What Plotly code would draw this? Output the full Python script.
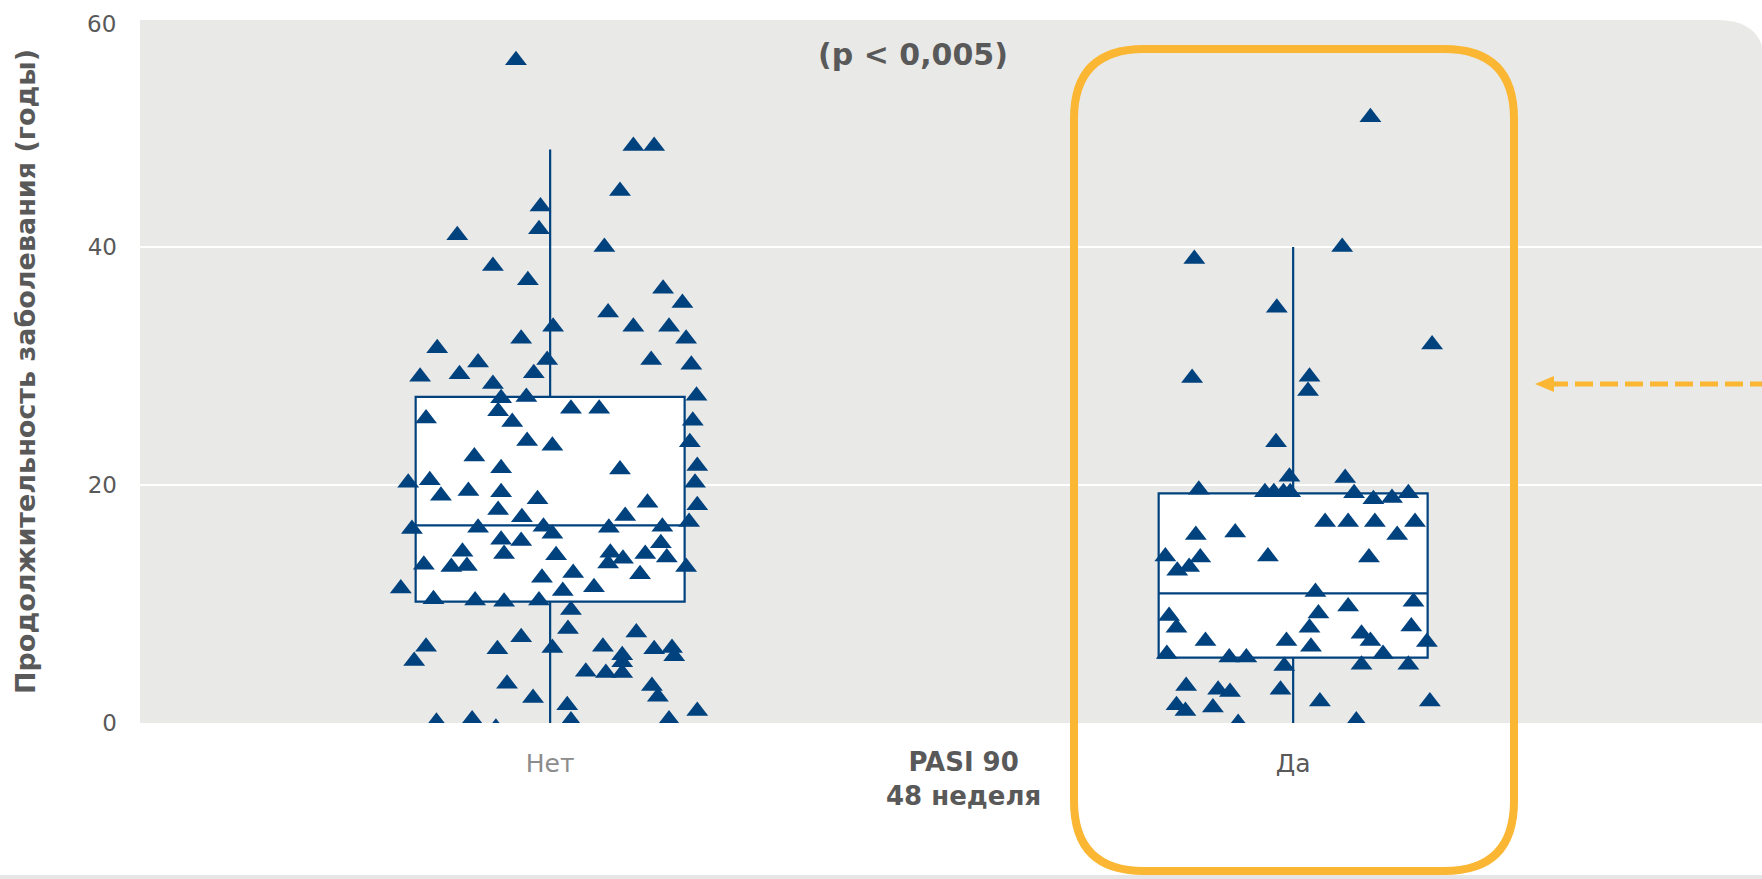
import plotly.graph_objects as go

# ---------------- data ----------------
categories = ["Нет", "Да"]
cat_pos = [0, 1]

# box statistics (years)
box_lower = [0.0, 0.0]
box_q1 = [10.2, 5.5]
box_median = [16.6, 10.9]
box_q3 = [27.4, 19.3]
box_upper = [48.2, 40.0]

# individual patients: jitter offset (category units) and disease duration (years)
no_offsets = [-0.046, 0.112, 0.140, 0.094, -0.013, -0.015, -0.125, 0.073, -0.077, -0.030,
              0.152, 0.178, 0.078, 0.112, 0.160, 0.004, 0.183, -0.039, -0.152, 0.190,
              -0.175, -0.122, -0.097, -0.004, -0.022, -0.077, 0.136, 0.197,
              -0.066, -0.032, -0.070, 0.028, 0.066, -0.167, -0.051, 0.192, 0.188, -0.031,
              0.003, -0.102, -0.066, 0.094, 0.198, -0.191, -0.162, 0.195, -0.147, -0.110,
              -0.066, -0.017, 0.131, 0.198, -0.070, 0.101, -0.038, -0.186, -0.097, -0.009,
              0.003, 0.079, 0.151, 0.187, -0.066, -0.039, 0.149, -0.118, 0.081, 0.098,
              0.128, 0.157, -0.062, 0.008, -0.170, -0.133, -0.112, 0.078, 0.183, -0.011,
              0.031, 0.121, -0.201, 0.017, 0.059, -0.157, -0.101, -0.062, -0.015, 0.028,
              0.024, 0.116, -0.039, -0.167, -0.071, 0.003, 0.071, 0.097, 0.140, 0.164,
              0.167, -0.183, 0.048, 0.075, 0.097, 0.097, 0.137, -0.058, 0.145, -0.023,
              0.023, 0.198, 0.028, -0.153, -0.105, -0.073, 0.160]
no_values = [55.7, 48.5, 48.5, 44.7, 43.4, 41.5, 41.0, 40.0, 38.4, 37.2,
             36.5, 35.3, 34.5, 33.3, 33.3, 33.3, 32.3, 32.3, 31.5, 30.1,
             29.1, 29.3, 30.3, 30.5, 29.4, 28.5, 30.5, 27.5,
             27.3, 27.4, 26.2, 26.4, 26.4, 25.6, 25.3, 25.4, 23.6, 23.7,
             23.3, 22.4, 21.4, 21.3, 21.6, 20.2, 20.4, 20.2, 19.1, 19.5,
             19.4, 18.8, 18.5, 18.3, 17.9, 17.4, 17.3, 16.3, 16.4, 16.5,
             15.9, 16.4, 16.5, 16.9, 15.4, 15.3, 15.1, 14.4, 14.3, 13.8,
             14.2, 13.9, 14.2, 14.1, 13.3, 13.1, 13.2, 13.4, 13.1, 12.2,
             12.6, 12.5, 11.3, 11.1, 11.4, 10.4, 10.3, 10.2, 10.3, 9.5,
             7.9, 7.6, 7.2, 6.4, 6.2, 6.3, 6.4, 5.7, 6.2, 6.3,
             5.6, 5.2, 4.3, 4.2, 5.1, 4.2, 3.1, 3.3, 2.2, 2.1,
             1.5, 1.0, 0.2, 0.1, 0.3, -0.4, 0.3]

yes_offsets = [0.104, 0.066, -0.133, -0.022, 0.187, -0.136, 0.022, 0.020, -0.023, -0.005,
               0.070, -0.127, -0.038, -0.026, -0.013, -0.004, 0.082, 0.155, 0.108, 0.133,
               0.043, 0.074, 0.110, 0.164, 0.140, -0.131, -0.078, -0.172, -0.125, -0.034,
               0.102, -0.156, -0.140, 0.030, 0.162, 0.074, 0.034, -0.167, -0.157, 0.022,
               0.159, -0.118, -0.009, 0.092, 0.104, 0.180, 0.024, -0.170, -0.086, -0.063,
               0.121, -0.012, 0.092, 0.155, -0.144, -0.101, -0.085, -0.017, 0.036, 0.184,
               -0.157, -0.145, -0.108, -0.074, 0.085]
yes_values = [50.9, 40.0, 39.0, 34.9, 31.8, 29.0, 29.1, 27.9, 23.6, 20.7,
              20.6, 19.6, 19.4, 19.4, 19.4, 19.4, 19.3, 19.3, 18.8, 18.9,
              16.9, 16.9, 16.9, 16.9, 15.8, 15.8, 16.0, 14.0, 13.9, 14.0,
              13.9, 12.8, 13.1, 11.0, 10.2, 9.8, 9.2, 9.0, 8.0, 8.0,
              8.1, 6.9, 6.9, 7.5, 6.9, 6.8, 6.4, 5.8, 5.5, 5.5,
              5.8, 4.8, 4.9, 4.9, 3.1, 2.8, 2.6, 2.8, 1.8, 1.8,
              1.5, 1.0, 1.3, 0.0, 0.2]

y_ticks = [0, 20, 40]
y_top_label = "60"
y_title = "Продолжительность заболевания (годы)"
x_title_lines = ["PASI 90", "48 неделя"]
p_text = "(p < 0,005)"
highlight_value = 28.5   # level pointed at by the dashed arrow

# ---------------- style ----------------
W, H = 1762, 879
PL, PR, PT, PB = 140, 1762, 20, 723
BLUE = "#00427E"
ORANGE = "#FBB733"
GREY_TXT = "#595959"
BG = "#E9E9E7"
Y_MAX = 59.08
X_MIN, X_MAX = -0.552, 1.631


def px(xp):
    return (xp - PL) / (PR - PL)


def py(yp):
    return (PB - yp) / (PB - PT)


fig = go.Figure()

for i, cat in enumerate(categories):
    fig.add_trace(go.Box(
        x=[cat_pos[i]], q1=[box_q1[i]], median=[box_median[i]], q3=[box_q3[i]],
        lowerfence=[box_lower[i]], upperfence=[box_upper[i]],
        width=0.362, whiskerwidth=0, boxpoints=False,
        fillcolor="white", line=dict(color=BLUE, width=2.2),
        name=cat, showlegend=False, hoverinfo="skip",
    ))

for pos, offs, vals, name in [(cat_pos[0], no_offsets, no_values, categories[0]),
                              (cat_pos[1], yes_offsets, yes_values, categories[1])]:
    fig.add_trace(go.Scatter(
        x=[pos + o for o in offs], y=vals, mode="markers", name=name,
        marker=dict(symbol="triangle-up", size=19, color=BLUE,
                    line=dict(width=0)),
        showlegend=False,
    ))

shapes = []
# rounded plot background (top-right corner rounded)
r = 45
shapes.append(dict(
    type="path", xref="paper", yref="paper", layer="below",
    path=(f"M {px(PL)},{py(PB)} L {px(PL)},{py(PT)} L {px(1717)},{py(PT)} "
          f"Q {px(1762 + 3)},{py(PT)} {px(1762 + 3)},{py(PT + r)} L {px(1765)},{py(PB)} Z"),
    fillcolor=BG, line=dict(width=0),
))
# light strip at page bottom
shapes.append(dict(type="rect", xref="paper", yref="paper", layer="below",
                   x0=px(0), x1=px(W), y0=py(875), y1=py(880),
                   fillcolor="#E6E6E6", line=dict(width=0)))
# orange highlight frame around "Да"
L, R, T, B, rr = 1074, 1514, 49, 871, 70
frame = (f"M {px(L)},{py(T + rr)} Q {px(L)},{py(T)} {px(L + rr)},{py(T)} "
         f"L {px(R - rr)},{py(T)} Q {px(R)},{py(T)} {px(R)},{py(T + rr)} "
         f"L {px(R)},{py(B - rr)} Q {px(R)},{py(B)} {px(R - rr)},{py(B)} "
         f"L {px(L + rr)},{py(B)} Q {px(L)},{py(B)} {px(L)},{py(B - rr)} Z")
shapes.append(dict(type="path", xref="paper", yref="paper", layer="above",
                   path=frame, line=dict(color=ORANGE, width=8)))
# dashed arrow
shapes.append(dict(type="line", xref="paper", yref="y", layer="above",
                   x0=px(1550), x1=px(1770), y0=highlight_value, y1=highlight_value,
                   line=dict(color=ORANGE, width=5, dash="18px,7px")))
ay_px = PB - highlight_value * (PB - PT) / Y_MAX
shapes.append(dict(type="path", xref="paper", yref="paper", layer="above",
                   path=(f"M {px(1535)},{py(ay_px)} L {px(1554)},{py(ay_px - 8)} "
                         f"L {px(1554)},{py(ay_px + 8)} Z"),
                   fillcolor=ORANGE, line=dict(width=0)))

annotations = [
    dict(text=y_top_label, xref="paper", yref="paper", x=px(118), y=py(24),
         xanchor="right", yanchor="middle", showarrow=False,
         font=dict(family="DejaVu Sans", size=23, color=GREY_TXT)),
    dict(text="<b>" + "<br>".join(x_title_lines) + "</b>", xref="paper", yref="paper",
         x=px(963), y=py(779), xanchor="center", yanchor="middle", showarrow=False,
         font=dict(family="DejaVu Sans", size=26, color=GREY_TXT)),
]

fig.update_layout(
    width=W, height=H,
    margin=dict(l=PL, r=W - PR, t=PT, b=H - PB, autoexpand=False),
    paper_bgcolor="white", plot_bgcolor="rgba(0,0,0,0)",
    title=dict(text=f"<b>{p_text}</b>", x=913 / W, xanchor="center",
               y=1 - 54 / H, yanchor="middle",
               font=dict(family="DejaVu Sans", size=30, color=GREY_TXT)),
    shapes=shapes, annotations=annotations,
    showlegend=False,
    xaxis=dict(range=[X_MIN, X_MAX], tickvals=cat_pos,
               ticktext=[f"<span style='color:#8C8C8C'>{categories[0]}</span>", categories[1]],
               showgrid=False, zeroline=False, showline=False,
               ticks="", ticklabelstandoff=23,
               tickfont=dict(family="DejaVu Sans", size=25, color=GREY_TXT)),
    yaxis=dict(range=[0, Y_MAX], tickvals=y_ticks, showgrid=True,
               gridcolor="white", gridwidth=1.5, zeroline=False, showline=False,
               ticks="", ticklabelstandoff=22,
               tickfont=dict(family="DejaVu Sans", size=23, color=GREY_TXT),
               title=dict(text=f"<b>{y_title}</b>", standoff=44,
                          font=dict(family="DejaVu Sans", size=27, color=GREY_TXT))),
)

fig.write_html("out.html", config={"displayModeBar": False},
               post_script="document.body.style.margin='0';")
